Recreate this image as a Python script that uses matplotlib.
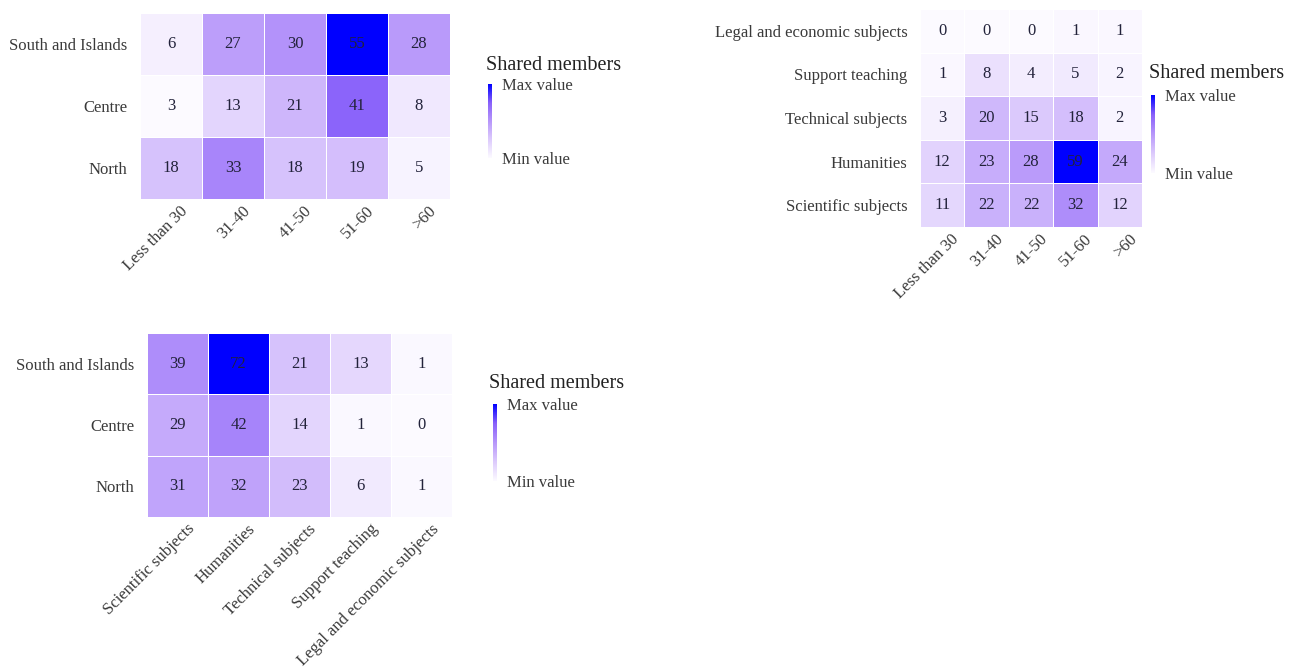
import numpy as np
import matplotlib
matplotlib.use("Agg")
import matplotlib.pyplot as plt
from matplotlib.colors import LinearSegmentedColormap
from matplotlib.transforms import ScaledTranslation

plt.rcParams['font.family'] = ['Liberation Serif', 'DejaVu Serif']

# ---- data ----
regions = ["South and Islands", "Centre", "North"]
age_groups = ["Less than 30", "31-40", "41-50", "51-60", ">60"]
subjects = ["Legal and economic subjects", "Support teaching", "Technical subjects",
            "Humanities", "Scientific subjects"]
subjects_cols = ["Scientific subjects", "Humanities", "Technical subjects",
                 "Support teaching", "Legal and economic subjects"]

region_by_age = [
    [6, 27, 30, 55, 28],
    [3, 13, 21, 41, 8],
    [18, 33, 18, 19, 5],
]
subject_by_age = [
    [0, 0, 0, 1, 1],
    [1, 8, 4, 5, 2],
    [3, 20, 15, 18, 2],
    [12, 23, 28, 59, 24],
    [11, 22, 22, 32, 12],
]
region_by_subject = [
    [39, 72, 21, 13, 1],
    [29, 42, 14, 1, 0],
    [31, 32, 23, 6, 1],
]

legend_title = "Shared members"
tick_names = ["Min value", "Max value"]

# white -> lavender -> pure blue
cmap = LinearSegmentedColormap.from_list(
    "lavender_blue",
    [(0.00, (252/255, 250/255, 255/255)),
     (0.25, (220/255, 202/255, 252/255)),
     (0.50, (182/255, 150/255, 250/255)),
     (0.75, (136/255, 96/255, 250/255)),
     (1.00, (0/255, 0/255, 255/255))])

W, H = 1301, 670
fig = plt.figure(figsize=(W / 100, H / 100), dpi=100)

LABEL_COLOR = "#3a3a3a"
VALUE_COLOR = "#22223a"
FS = 12


def px_axes(x0, y0, x1, y1):
    return fig.add_axes([x0 / W, 1 - y1 / H, (x1 - x0) / W, (y1 - y0) / H])


def heatmap(box, data, rows, cols, cbar_box, title_xy):
    ax = px_axes(*box)
    arr = np.array(data, dtype=float)
    vmin, vmax = arr.min(), arr.max()
    mesh = ax.pcolormesh(arr, cmap=cmap, vmin=vmin, vmax=vmax,
                         edgecolors="white", linewidth=0.6)
    ax.set_xlim(0, arr.shape[1])
    ax.set_ylim(arr.shape[0], 0)
    for i in range(arr.shape[0]):
        for j in range(arr.shape[1]):
            ax.text(j + 0.5, i + 0.5, f"{int(arr[i, j])}", ha="center", va="center",
                    fontsize=12, color=VALUE_COLOR)

    # rotated column labels, anchored a little right of each column centre
    ax.set_xticks([])
    lab_trans = ax.get_xaxis_transform() + ScaledTranslation(
        9 / 100, -4 / 100, fig.dpi_scale_trans)
    for j, name in enumerate(cols):
        ax.text(j + 0.5, 0, name, transform=lab_trans, rotation=45,
                rotation_mode="anchor", ha="right", va="top",
                fontsize=FS, color=LABEL_COLOR)

    ax.set_yticks(np.arange(arr.shape[0]) + 0.5)
    ax.set_yticklabels(rows, fontsize=FS, color=LABEL_COLOR)
    ax.tick_params(axis="y", length=0, pad=9)
    for s in ax.spines.values():
        s.set_visible(False)

    cax = px_axes(*cbar_box)
    cb = fig.colorbar(mesh, cax=cax, ticks=[vmin, vmax])
    cb.set_ticklabels(tick_names)
    cb.outline.set_visible(False)
    cax.tick_params(length=0, pad=7, labelsize=FS, labelcolor=LABEL_COLOR)
    fig.text(title_xy[0] / W, 1 - title_xy[1] / H, legend_title,
             fontsize=14.5, color="#222222", ha="left", va="center")
    return ax


heatmap((140, 13, 450, 199), region_by_age, regions, age_groups,
        (488, 84, 492, 158), (486, 66))
heatmap((920, 9, 1142, 227), subject_by_age, subjects, age_groups,
        (1151, 95, 1155, 173), (1149, 74))
heatmap((147, 333, 452, 517), region_by_subject, regions, subjects_cols,
        (493, 404, 497, 481), (489, 384))

fig.savefig("out.png", dpi=100, facecolor="white")
